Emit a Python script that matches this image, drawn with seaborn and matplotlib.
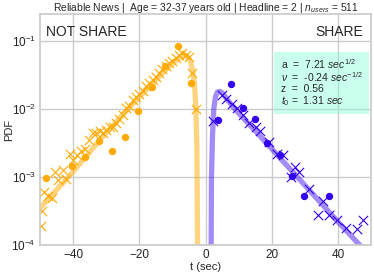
import matplotlib
matplotlib.use("Agg")
import matplotlib.pyplot as plt
import seaborn as sns

# NOT SHARE (negative t)
ns_circ_t = [-48.3, -40.2, -36.3, -32.3, -28.2, -24.3, -20.3, -16.3, -12.3, -8.3, -4.5]
ns_circ_p = [9.8e-4, 1.45e-3, 1.95e-3, 3.4e-3, 2.45e-3, 3.9e-3, 9.3e-3, 0.021, 0.043, 0.085, 0.024]

ns_x_t = [-49.8, -49.3, -48.8, -47.5, -46.3, -45.5, -44.5, -43.2, -42.0, -41.0, -40.0, -38.8,
          -37.5, -36.3, -35.2, -34.0, -33.0, -32.0, -31.0, -30.0, -29.0, -28.0, -27.0, -26.0,
          -25.0, -24.0, -23.0, -22.0, -21.0, -20.0, -19.0, -18.0, -17.0, -16.0, -15.0, -14.0,
          -13.0, -12.0, -11.0, -10.0, -9.0, -8.0, -7.0, -6.0, -5.0, -4.0, -3.0]
ns_x_p = [1.9e-4, 3.2e-4, 6.0e-4, 5.2e-4, 5.0e-4, 1.17e-3, 8.9e-4, 1.26e-3, 9.5e-4, 2.2e-3, 1.8e-3, 2.1e-3,
          2.4e-3, 2.6e-3, 3.5e-3, 4.4e-3, 4.5e-3, 4.7e-3, 4.4e-3, 5.0e-3, 5.4e-3, 5.5e-3, 6.2e-3, 7.2e-3,
          8.3e-3, 0.0102, 0.0112, 0.0138, 0.0151, 0.0166, 0.0186, 0.0219, 0.024, 0.027, 0.030, 0.034,
          0.039, 0.043, 0.048, 0.051, 0.056, 0.063, 0.066, 0.062, 0.058, 0.034, 0.010]

ns_fit_t = [-50, -40, -30, -20, -14, -10, -8, -6.5, -5.5, -4.5, -3.8, -3.3, -2.9, -2.6, -2.4, -2.3]
ns_fit_p = [3.5e-4, 1.2e-3, 4.5e-3, 0.0151, 0.030, 0.047, 0.056, 0.063, 0.060, 0.050, 0.035, 0.022,
            0.010, 2.5e-3, 1e-4, 1e-5]

# SHARE (positive t)
sh_circ_t = [3.8, 7.6, 11.2, 15.0, 18.7, 22.5, 26.1, 29.8, 37.3]
sh_circ_p = [6.8e-3, 0.0234, 0.0105, 7.2e-3, 3.2e-3, 2.1e-3, 1.05e-3, 5.2e-4, 5.2e-4]

sh_x_t = [2.4, 4.9, 6.2, 7.9, 9.4, 11.4, 13.0, 15.2, 16.5, 19.2, 21.7, 23.3, 25.7, 27.0, 28.3,
          31.2, 34.0, 35.6, 37.3, 39.8, 42.5, 45.7, 47.7]
sh_x_p = [6.6e-3, 0.0162, 0.0141, 0.012, 0.0102, 8.1e-3, 6.3e-3, 5.5e-3, 4.7e-3, 3.3e-3, 2.2e-3,
          2.1e-3, 1.0e-3, 1.4e-3, 1.2e-3, 6.6e-4, 2.8e-4, 4.5e-4, 2.75e-4, 2.3e-4, 1.8e-4, 1.7e-4, 2.3e-4]

sh_fit_t = [1.6, 1.7, 1.8, 2.1, 2.5, 3.0, 3.6, 4.3, 5.0, 6, 8, 10, 15, 20, 30, 40, 47, 50]
sh_fit_p = [1e-5, 1e-4, 1e-3, 4e-3, 0.010, 0.0151, 0.0178, 0.0182, 0.0174, 0.0151, 0.0112, 8.7e-3,
            4.8e-3, 2.6e-3, 7.6e-4, 2.2e-4, 9.5e-5, 6.6e-5]

orange = "#ffaa00"
blue = "#3300ee"

sns.set_theme(style="whitegrid")
plt.rcParams["font.family"] = ["Liberation Sans", "DejaVu Sans"]
plt.rcParams["mathtext.fontset"] = "custom"
plt.rcParams["mathtext.rm"] = "Liberation Sans"
plt.rcParams["mathtext.it"] = "Liberation Sans:italic"

fig = plt.figure(figsize=(3.74, 2.75), dpi=100)
ax = fig.add_axes([0.107, 0.109, 0.885, 0.84])

sns.lineplot(x=ns_fit_t, y=ns_fit_p, color=orange, alpha=0.5, lw=3.8, ax=ax)
sns.lineplot(x=sh_fit_t, y=sh_fit_p, color=blue, alpha=0.45, lw=3.8, ax=ax)
sns.scatterplot(x=ns_x_t, y=ns_x_p, marker="x", color=orange, s=45, linewidth=0.8, ax=ax)
sns.scatterplot(x=sh_x_t, y=sh_x_p, marker="x", color=blue, s=45, linewidth=0.8, ax=ax)
sns.scatterplot(x=ns_circ_t, y=ns_circ_p, color=orange, s=28, linewidth=0, ax=ax)
sns.scatterplot(x=sh_circ_t, y=sh_circ_p, color=blue, s=28, linewidth=0, ax=ax)

ax.set_yscale("log")
ax.set_xlim(-50, 50)
ax.set_ylim(1e-4, 0.25)
ax.set_xticks([-40, -20, 0, 20, 40])
ax.tick_params(which="both", length=0, labelsize=8.5, pad=3)
ax.set_xlabel("t (sec)", fontsize=8)
ax.set_ylabel("PDF", fontsize=8)
ax.xaxis.set_label_coords(0.5, -0.075)
ax.yaxis.set_label_coords(-0.078, 0.5)
ax.set_title("Reliable News |  Age = 32-37 years old | Headline = 2 | $n_{users}$ = 511",
             fontsize=7.4, pad=2.5)

ax.text(0.018, 0.922, "NOT SHARE", transform=ax.transAxes, fontsize=10, va="center", ha="left")
ax.text(0.976, 0.922, "SHARE", transform=ax.transAxes, fontsize=10, va="center", ha="right")

params = ("a  =  7.21 $sec^{1/2}$\n"
          "$\\nu$  =  -0.24 $sec^{-1/2}$\n"
          "z  =  0.56\n"
          "$t_0$ =  1.31 $sec$")
ax.text(0.727, 0.815, params, transform=ax.transAxes, fontsize=7.5, va="top", ha="left",
        linespacing=1.0,
        bbox=dict(boxstyle="square,pad=0.6", facecolor="aquamarine", alpha=0.4, edgecolor="none"))

fig.savefig("out.png", dpi=100)
